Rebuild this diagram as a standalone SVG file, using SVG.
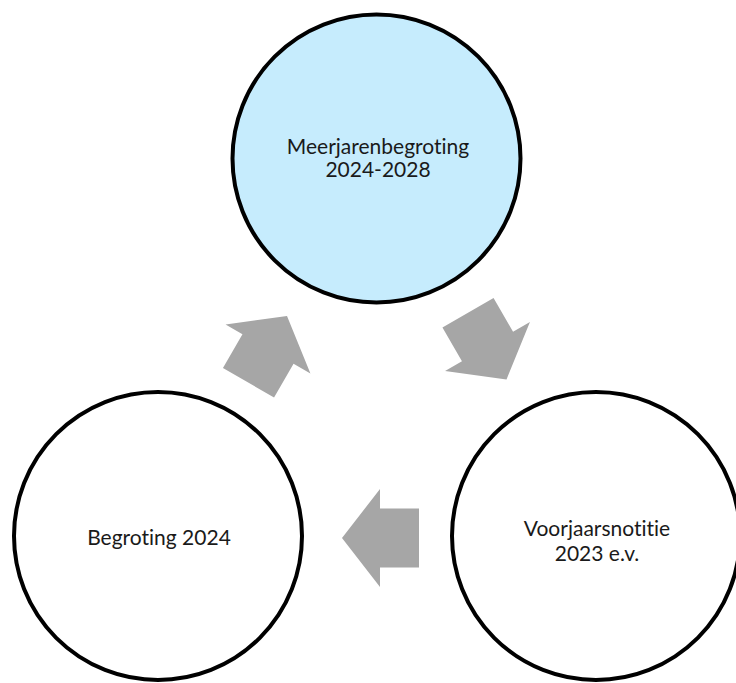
<svg xmlns="http://www.w3.org/2000/svg" width="736" height="683" viewBox="0 0 736 683">
<defs>
<style>
.node circle{stroke:#000;stroke-width:4}
.lbl{font-family:Lato,"Liberation Sans",sans-serif;font-size:21px;fill:#1a1a1a;text-anchor:middle;font-variant-ligatures:none;font-feature-settings:"liga" 0,"clig" 0}
.arr{fill:#a6a6a6}
</style>
<polygon id="arrow" points="38,0 0,-49 0,-29.5 -39,-29.5 -39,29.5 0,29.5 0,49"/>
</defs>
<rect width="736" height="683" fill="#fff"/>
<g id="connectors">
<use href="#arrow" class="arr" transform="translate(487.5,346.5) rotate(60)"/>
<use href="#arrow" class="arr" transform="translate(380,538) rotate(180)"/>
<use href="#arrow" class="arr" transform="translate(268,349) rotate(-60)"/>
</g>
<g id="node-meerjaren" class="node">
<circle cx="376.5" cy="158.5" r="144" fill="#c6ecfd"/>
<text class="lbl" x="378" y="154">Meerjarenbegroting</text>
<text class="lbl" x="378" y="177">2024-2028</text>
</g>
<g id="node-voorjaar" class="node">
<circle cx="596" cy="536" r="144" fill="#fff"/>
<text class="lbl" x="597" y="536">Voorjaarsnotitie</text>
<text class="lbl" x="597" y="561">2023 e.v.</text>
</g>
<g id="node-begroting" class="node">
<circle cx="158" cy="536" r="144" fill="#fff"/>
<text class="lbl" x="159" y="545">Begroting 2024</text>
</g>
</svg>
